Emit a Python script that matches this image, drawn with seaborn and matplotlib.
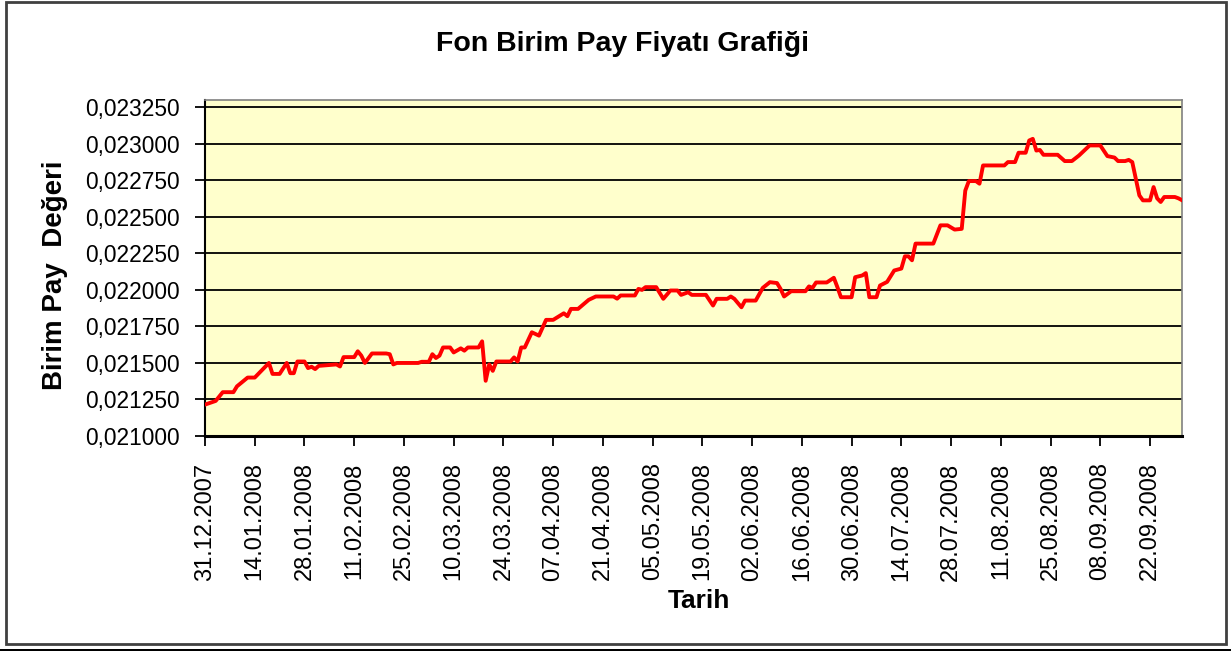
import pandas as pd
import seaborn as sns
import matplotlib
matplotlib.use("Agg")
import matplotlib.pyplot as plt
import matplotlib.dates as mdates
from matplotlib.ticker import FuncFormatter
from matplotlib.patches import Rectangle

############## Data ##############
start_date = "2007-12-31"
day_offset = [0, 3, 5, 8, 9, 12, 14, 18, 19, 21, 23, 24, 25, 26, 28, 29, 30, 31, 32, 37,
              38, 39, 42, 43, 44, 45, 47, 51, 52, 53, 54, 60, 61, 63, 64, 65, 66, 67, 69, 70,
              72, 73, 74, 77, 78, 79, 80, 81, 82, 86, 87, 88, 89, 90, 92, 94,
              96, 98, 101, 102, 103, 105, 108, 110, 115, 116, 117, 121, 122, 123, 124, 127,
              129, 131, 133, 134, 136, 137, 141, 143, 144, 147, 148, 149, 151, 152, 155, 157,
              159, 161, 162, 163, 165, 169, 170, 171, 172, 175, 177, 178, 179, 182, 183, 185,
              186, 187, 189, 190, 192, 194, 196, 197, 198, 199, 200, 205, 207, 209, 211, 213,
              214, 215, 217, 218, 219, 225, 226, 228, 229, 231, 232, 233, 234, 235, 236, 240,
              242, 244, 246, 249, 252, 254, 256, 257, 259, 260, 261, 263, 264, 266, 267, 268,
              269, 270, 273, 274, 275]
unit_price = [0.021215, 0.021240, 0.021300, 0.021300, 0.021340, 0.021400, 0.021400, 0.021500,
              0.021425, 0.021425, 0.021500, 0.021430, 0.021430, 0.021510, 0.021510, 0.021465,
              0.021474, 0.021458, 0.021480, 0.021490, 0.021476, 0.021540, 0.021540, 0.021580,
              0.021550, 0.021500, 0.021565, 0.021565, 0.021560, 0.021490, 0.021500, 0.021500,
              0.021508, 0.021508, 0.021560, 0.021534, 0.021550, 0.021606, 0.021606, 0.021572,
              0.021600, 0.021584, 0.021606, 0.021606, 0.021648, 0.021378, 0.021490, 0.021446,
              0.021510, 0.021510, 0.021538, 0.021510, 0.021606, 0.021606, 0.021710, 0.021687,
              0.021795, 0.021795, 0.021840, 0.021820, 0.021870, 0.021870, 0.021932, 0.021955,
              0.021955, 0.021940, 0.021962, 0.021962, 0.022007, 0.022000, 0.022019, 0.022019,
              0.021939, 0.021996, 0.021996, 0.021966, 0.021984, 0.021966, 0.021966, 0.021893,
              0.021939, 0.021939, 0.021955, 0.021939, 0.021881, 0.021927, 0.021927, 0.022014,
              0.022053, 0.022047, 0.022007, 0.021955, 0.021991, 0.021991, 0.022024, 0.022014,
              0.022051, 0.022051, 0.022083, 0.022019, 0.021950, 0.021950, 0.022087, 0.022099,
              0.022115, 0.021950, 0.021950, 0.022030, 0.022055, 0.022133, 0.022146, 0.022230,
              0.022230, 0.022203, 0.022317, 0.022317, 0.022442, 0.022442, 0.022413, 0.022418,
              0.022680, 0.022745, 0.022745, 0.022727, 0.022852, 0.022852, 0.022875, 0.022875,
              0.022939, 0.022939, 0.023023, 0.023034, 0.022954, 0.022958, 0.022925, 0.022925,
              0.022882, 0.022882, 0.022920, 0.022989, 0.022989, 0.022916, 0.022906, 0.022882,
              0.022882, 0.022890, 0.022875, 0.022647, 0.022613, 0.022613, 0.022704, 0.022627,
              0.022602, 0.022636, 0.022636, 0.022627, 0.022614]
y_ticks = [0.021000, 0.021250, 0.021500, 0.021750, 0.022000, 0.022250, 0.022500, 0.022750,
           0.023000, 0.023250]

df = pd.DataFrame({
    "Tarih": pd.Timestamp(start_date) + pd.to_timedelta(day_offset, unit="D"),
    "Deger": unit_price,
})

##################### Plot ########################################
plt.rcParams['font.family'] = ['Liberation Sans', 'DejaVu Sans']

fig = plt.figure(figsize=(12.31, 6.51), dpi=100)
ax = fig.add_axes([205 / 1231, 1 - 436 / 651, (1182 - 205) / 1231, (436 - 100) / 651])
ax.set_facecolor("#FFFFCC")

sns.lineplot(data=df, x="Tarih", y="Deger", color="#FF0000", linewidth=2.8, ax=ax, zorder=3)

ax.set_ylim(0.021, 0.0233)
ax.set_yticks(y_ticks)
ax.yaxis.set_major_formatter(FuncFormatter(lambda v, p: f"{v:.6f}".replace(".", ",")))
ax.grid(axis="y", color="black", linewidth=1.3, zorder=1)

# x axis: a tick every 14 days from the first date
x0 = pd.Timestamp(start_date)
ax.set_xlim(x0, x0 + pd.Timedelta(days=275))
ax.set_xticks(pd.date_range(x0, periods=20, freq="14D"))
ax.xaxis.set_major_formatter(mdates.DateFormatter("%d.%m.%Y"))
ax.tick_params(axis="x", labelrotation=90, labelsize=17, length=7, width=1.3, pad=12)
ax.tick_params(axis="y", labelsize=16.4, length=7, width=1.3, pad=11)
for lab in ax.get_xticklabels():
    lab.set_va("top")

ax.set_xlabel("")
ax.set_ylabel("")
for side in ["top", "right"]:
    ax.spines[side].set_color("#808080")
    ax.spines[side].set_linewidth(1.2)
ax.spines["left"].set_color("black")
ax.spines["left"].set_linewidth(1.5)
ax.spines["bottom"].set_color("black")
ax.spines["bottom"].set_linewidth(2.2)

# texts
fig.text(623 / 1231, 1 - 44 / 651, "Fon Birim Pay Fiyatı Grafiği", fontsize=20.5,
         fontweight="bold", ha="center", va="center")
fig.text(55 / 1231, 1 - 275 / 651, "Birim Pay  Değeri", fontsize=20, fontweight="bold",
         rotation=90, ha="center", va="center")
fig.text(699 / 1231, 1 - 601 / 651, "Tarih", fontsize=19, fontweight="bold",
         ha="center", va="center")

# chart frame
fig.patches.append(Rectangle((6 / 1231, 1 - 644 / 651), 1220 / 1231, 642 / 651,
                             transform=fig.transFigure, fill=False,
                             edgecolor="#404040", linewidth=2))
fig.patches.append(Rectangle((0, 0), 1, 2 / 651, transform=fig.transFigure,
                             facecolor="black", edgecolor="none"))

fig.savefig("out.png", dpi=100)
